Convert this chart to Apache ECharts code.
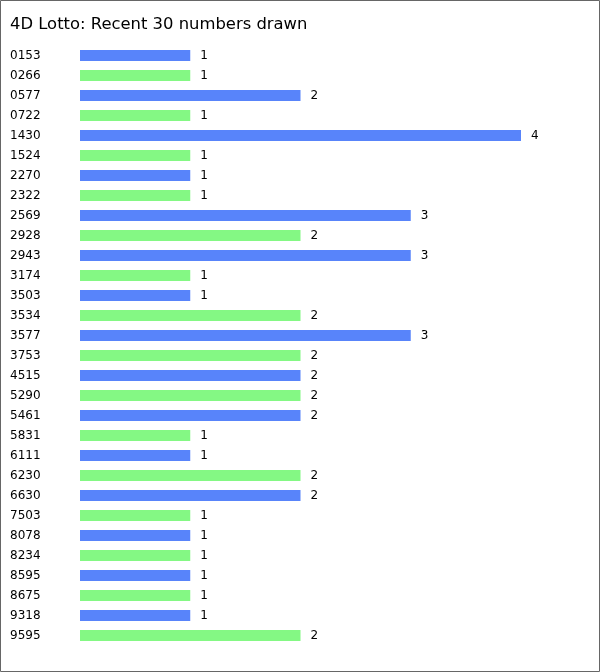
<!DOCTYPE html>
<html><head><meta charset="utf-8">
<script src="https://cdn.jsdelivr.net/npm/echarts@6/dist/echarts.min.js"></script>
<style>html,body{margin:0;padding:0;background:#fff}#c{width:600px;height:672px}</style>
</head><body><div id="c"></div>
<script>
const categories = ["0153","0266","0577","0722","1430","1524","2270","2322","2569","2928","2943","3174","3503","3534","3577","3753","4515","5290","5461","5831","6111","6230","6630","7503","8078","8234","8595","8675","9318","9595"];
const counts = [1,1,2,1,4,1,1,1,3,2,3,1,1,2,3,2,2,2,2,1,1,2,2,1,1,1,1,1,1,2];
const colors = ["#5884fa","#84f884"];
const titleText = "4D Lotto: Recent 30 numbers drawn";
const font = "DejaVu Sans, Verdana, sans-serif";
const chart = echarts.init(document.getElementById('c'), null, {renderer:'canvas'});
chart.setOption({
  animation:false,
  backgroundColor:'#fff',
  title:{text:titleText,left:10,top:16.5,padding:0,textStyle:{fontFamily:font,fontSize:16.4,fontWeight:'normal',color:'#000'}},
  graphic:[{type:'rect',shape:{x:0.5,y:0.5,width:599,height:671},style:{fill:'none',stroke:'#666',lineWidth:1},silent:true}],
  grid:{left:80,top:45.5,width:441,height:600,containLabel:false},
  xAxis:{type:'value',min:0,max:4,show:false},
  yAxis:{type:'category',data:categories,inverse:true,
    axisLine:{show:false},axisTick:{show:false},splitLine:{show:false},
    axisLabel:{align:'left',margin:70,fontFamily:font,fontSize:12,color:'#000'}},
  series:[{type:'bar',barWidth:11,
    data:counts.map((v,i)=>({value:v,itemStyle:{color:colors[i%2]}})),
    label:{show:true,position:'right',distance:10,fontFamily:font,fontSize:12,color:'#000'}}]
});
</script></body></html>
